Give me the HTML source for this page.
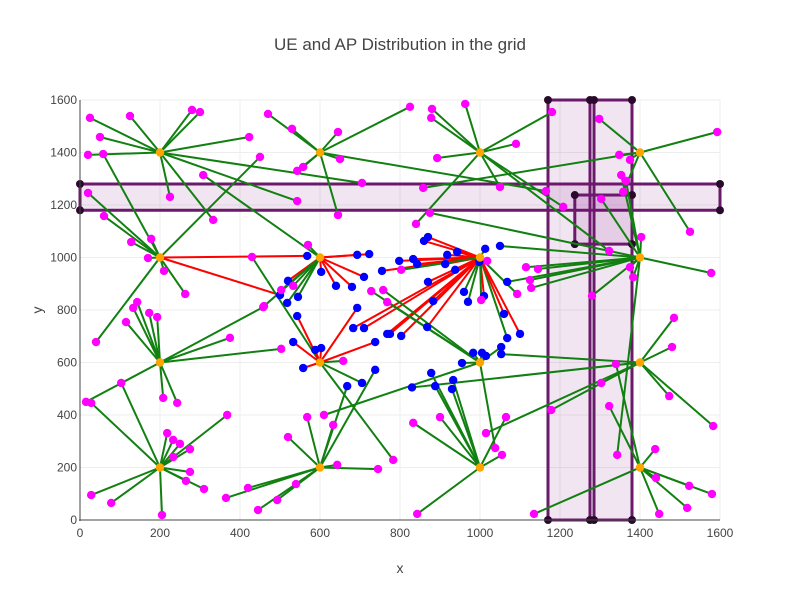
<!DOCTYPE html>
<html><head><meta charset="utf-8"><style>
body{margin:0;background:#fff;font-family:"Liberation Sans",sans-serif}
</style></head><body>
<svg id="chart" width="800" height="600" xmlns="http://www.w3.org/2000/svg" font-family="Liberation Sans, sans-serif">
<rect width="800" height="600" fill="#fff"/>
<text x="400" y="50" text-anchor="middle" font-size="17" fill="#444">UE and AP Distribution in the grid</text>
<g id="grid"></g><g id="rects"></g><g id="links"></g><g id="marks"></g><g id="axes"></g>
<text x="400" y="573" text-anchor="middle" font-size="14" fill="#444">x</text>
<text x="42" y="310" text-anchor="middle" font-size="14" fill="#444" transform="rotate(-90 42 310)">y</text>
</svg>
<script>
const xTicks=[0,200,400,600,800,1000,1200,1400,1600];
const yTicks=[0,200,400,600,800,1000,1200,1400,1600];
const apX=[200,600,1000,1400,200,600,1000,1400,200,600,1000,1400,200,600,1000,1400];
const apY=[200,200,200,200,600,600,600,600,1000,1000,1000,1000,1400,1400,1400,1400];
// UE: [x, y, apX, apY, kind] kind: m=magenta/green, b=blue/red, g=blue/green
const ues=[
[25,1532,200,1400,'m'],[125,1539,200,1400,'m'],[50,1459,200,1400,'m'],[20,1391,200,1400,'m'],[58,1394,200,1000,'m'],
[280,1562,200,1400,'m'],[300,1554,200,1400,'m'],[225,1231,200,1400,'m'],[333,1143,200,1400,'m'],[308,1314,600,1000,'m'],
[543,1215,200,1400,'m'],[705,1284,200,1400,'m'],[423,1459,200,1400,'m'],[530,1490,600,1400,'m'],[825,1574,600,1400,'m'],
[20,1246,200,1000,'m'],[60,1158,200,1000,'m'],[128,1059,200,1000,'m'],[178,1071,200,1000,'m'],[170,998,200,1000,'m'],
[210,949,200,1000,'m'],[263,861,200,1000,'m'],[143,830,200,600,'m'],[133,808,200,600,'m'],[450,1383,200,1000,'m'],
[500,857,200,1000,'b'],[568,1006,200,1000,'b'],[430,1002,600,600,'m'],
[103,522,200,200,'m'],[15,450,200,600,'m'],[28,446,200,200,'m'],[208,465,200,600,'m'],[243,446,200,600,'m'],
[40,678,200,1000,'m'],[115,754,200,600,'m'],[173,789,200,600,'m'],[193,773,200,600,'m'],[375,694,200,600,'m'],
[503,652,200,600,'m'],[458,811,200,600,'m'],[368,400,200,200,'m'],
[218,331,200,200,'m'],[233,305,200,200,'m'],[250,290,200,200,'m'],[233,240,200,200,'m'],[275,270,200,200,'m'],
[275,183,200,200,'m'],[265,149,200,200,'m'],[310,118,200,200,'m'],[420,122,600,200,'m'],[28,95,200,200,'m'],
[78,65,200,200,'m'],[205,19,200,200,'m'],
[568,392,600,200,'m'],[520,316,600,200,'m'],[633,362,600,200,'m'],[643,210,600,200,'m'],[745,194,600,200,'m'],
[540,137,600,200,'m'],[493,76,600,200,'m'],[445,38,600,200,'m'],[365,84,600,200,'m'],[610,400,1000,600,'m'],
[738,572,600,200,'g'],[668,510,600,200,'g'],[705,522,600,600,'g'],[783,229,600,600,'m'],
[533,678,600,600,'b'],[558,579,600,600,'b'],[588,648,600,600,'b'],[603,655,600,600,'b'],[658,606,600,600,'m'],
[543,777,600,600,'b'],[683,731,1000,1000,'b'],[710,731,1000,1000,'b'],[693,808,600,600,'b'],[738,678,600,600,'b'],
[768,709,1000,1000,'b'],[775,709,1000,1000,'b'],[803,701,1000,1000,'b'],
[983,637,1000,600,'g'],[1005,637,1000,600,'g'],[1015,625,1000,600,'g'],[955,598,1000,600,'g'],[1053,659,1000,600,'g'],
[1068,693,1000,1000,'g'],[1053,632,1400,600,'g'],[1100,709,1000,1000,'b'],[868,735,1000,1000,'b'],[1060,785,1000,1000,'b'],
[1015,331,1400,600,'m'],[1038,274,1000,600,'m'],[1065,392,1000,200,'m'],[1055,248,1000,200,'m'],[900,392,1000,200,'m'],
[833,370,1000,200,'m'],[843,23,1000,200,'m'],[878,560,1000,200,'g'],[888,510,1000,200,'g'],[933,533,1000,200,'g'],
[930,499,1000,200,'g'],[830,505,1400,600,'g'],[1178,419,1400,600,'m'],[1303,522,1400,600,'m'],[1340,594,1400,200,'m'],
[1323,434,1400,200,'m'],[1343,248,1400,1000,'m'],[1485,770,1400,600,'m'],[1480,659,1400,600,'m'],[1473,472,1400,600,'m'],
[1583,358,1400,600,'m'],[1438,270,1400,200,'m'],[1440,160,1400,200,'m'],[1523,130,1400,200,'m'],[1580,99,1400,200,'m'],
[1518,46,1400,200,'m'],[1448,23,1400,200,'m'],[1135,23,1400,200,'m'],
[880,1566,1000,1400,'m'],[878,1532,1000,1400,'m'],[963,1585,1000,1400,'m'],[1090,1433,1000,1400,'m'],[893,1379,1000,1400,'m'],
[1180,1554,1000,1400,'m'],[858,1265,1400,1400,'m'],[1050,1269,1000,1400,'m'],[1165,1253,600,1400,'m'],[1208,1193,1000,1400,'m'],
[875,1170,1400,1000,'m'],[840,1128,1000,1400,'m'],
[1298,1528,1400,1400,'m'],[1593,1478,1400,1400,'m'],[1348,1391,1400,1400,'m'],[1375,1372,1400,1400,'m'],[1353,1314,1400,1000,'m'],
[1365,1292,1400,1000,'m'],[1358,1250,1400,1400,'m'],[1303,1223,1400,1000,'m'],[1525,1098,1400,1400,'m'],
[1403,1078,1400,1000,'m'],[1323,1025,1000,1400,'m'],[1375,963,1400,1000,'m'],[1383,925,1400,1000,'m'],[1578,941,1400,1000,'m'],
[1280,854,1400,1000,'m'],[1115,963,1400,1000,'m'],[1145,956,1400,1000,'m'],[1125,914,1400,1000,'m'],[1128,884,1400,1000,'m'],
[1093,861,1000,1000,'m'],[1018,987,1000,1000,'m'],
[870,1078,1000,1000,'b'],[860,1063,1000,1000,'b'],[918,1010,1000,1000,'b'],[943,1021,1000,1000,'b'],[1013,1033,1000,1000,'g'],
[1050,1044,1400,1000,'g'],[833,994,1000,1000,'b'],[843,975,1000,1000,'b'],[913,975,1000,1000,'b'],[938,953,1000,1000,'b'],
[998,983,1000,1000,'b'],[870,907,1000,1000,'b'],[1068,907,1400,1000,'g'],[960,869,1000,1000,'g'],[970,831,1000,1000,'g'],
[1010,853,1000,1000,'b'],[883,834,1000,1000,'b'],[1003,838,1000,1000,'m'],
[693,1010,600,1000,'b'],[723,1013,600,1000,'b'],[603,945,600,1000,'b'],[640,892,600,1000,'b'],[680,888,600,1000,'b'],
[710,926,600,1000,'b'],[755,949,1000,1000,'b'],[798,987,1000,1000,'b'],[520,911,600,1000,'b'],[545,850,600,1000,'g'],
[518,827,600,1000,'g'],[570,1048,600,1000,'m'],[533,892,600,1000,'m'],[503,876,600,1000,'m'],[728,872,1000,600,'m'],
[758,876,1000,600,'m'],[768,830,1000,600,'m'],[803,953,1000,1000,'m'],[460,815,600,1000,'m'],
[645,1162,600,1400,'m'],[650,1375,600,1400,'m'],[645,1478,600,1400,'m'],[470,1547,600,1400,'m'],[543,1330,600,1400,'m'],
[558,1345,600,1400,'m']
];
const rectX0=[0,1170,1285,1237];
const rectX1=[1600,1275,1380,1380];
const rectY0=[1180,0,0,1051];
const rectY1=[1280,1600,1600,1238];

const X=v=>80+v*0.4, Y=v=>520-v*0.2625;
const NS='http://www.w3.org/2000/svg';
function mk(tag,attrs,parent){const e=document.createElementNS(NS,tag);for(const k in attrs)e.setAttribute(k,attrs[k]);document.getElementById(parent).appendChild(e);return e;}
xTicks.forEach(t=>{
  if(t>0){const l=mk('line',{x1:X(t),x2:X(t),y1:100,y2:520,stroke:'#eee','stroke-width':1},'grid');
  
  }
  const tx=mk('text',{x:X(t),y:537,'text-anchor':'middle','font-size':12,fill:'#444'},'axes');tx.textContent=t;
  
  
});
yTicks.forEach(t=>{
  if(t>0){const l=mk('line',{x1:80,x2:720,y1:Y(t),y2:Y(t),stroke:'#eee','stroke-width':1},'grid');
  
  }
  const tx=mk('text',{x:77,y:Y(t)+4,'text-anchor':'end','font-size':12,fill:'#444'},'axes');tx.textContent=t;
  
  
});
const ax=mk('line',{x1:79,x2:720,y1:520,y2:520,stroke:'#444','stroke-width':1},'axes');


const ay=mk('line',{x1:80,x2:80,y1:100,y2:521,stroke:'#444','stroke-width':1},'axes');


rectX0.forEach((x0,i)=>{
  const r=mk('rect',{x:X(x0),y:Y(rectY1[i]),width:X(rectX1[i])-X(x0),height:Y(rectY0[i])-Y(rectY1[i]),fill:'rgba(128,0,128,0.1)',stroke:'#6b1a6b','stroke-width':3},'rects');
  
  
  [[x0,rectY0[i]],[x0,rectY1[i]],[rectX1[i],rectY0[i]],[rectX1[i],rectY1[i]]].forEach(p=>{
    const c=mk('circle',{cx:X(p[0]),cy:Y(p[1]),r:4,fill:'#2a0a2a'},'rects');
    
    
  });
});
ues.forEach(u=>{
  const l=mk('line',{x1:X(u[0]),y1:Y(u[1]),x2:X(u[2]),y2:Y(u[3]),stroke:u[4]==='b'?'#ff0000':'#118011','stroke-width':2},'links');
  
  
});
ues.forEach(u=>{
  const c=mk('circle',{cx:X(u[0]),cy:Y(u[1]),r:4.2,fill:u[4]==='m'?'#ff00ff':'#0000ff'},'marks');
  
  
});
apX.forEach((x,i)=>{
  const c=mk('circle',{cx:X(x),cy:Y(apY[i]),r:4.2,fill:'#ffa500'},'marks');
  
  
});
</script>
</body></html>
